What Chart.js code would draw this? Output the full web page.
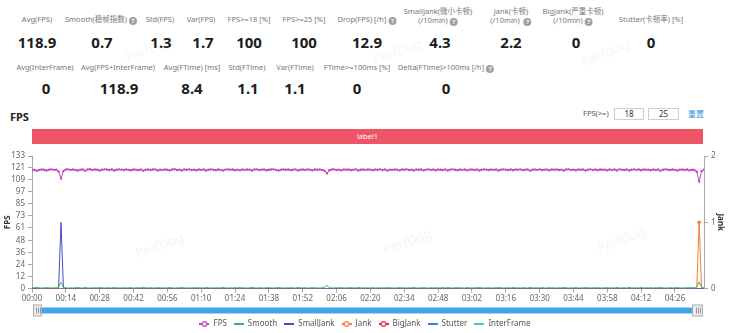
<!DOCTYPE html>
<html>
<head>
<meta charset="utf-8">
<script src="https://cdn.jsdelivr.net/npm/chart.js@4/dist/chart.umd.min.js"></script>
<style>
  html, body { margin: 0; padding: 0; background: #fff; }
  body { width: 730px; height: 333px; overflow: hidden; position: relative;
         font-family: "Noto Sans", "Noto Sans CJK SC", sans-serif; }
  .lab { position: absolute; font-size: 7.5px; line-height: 9px; color: #777;
         transform: translateX(-50%); white-space: nowrap; text-align: center; }
  .val { position: absolute; font-size: 15px; font-weight: bold; color: #1c1c1c;
         transform: translate(-50%, -50%); white-space: nowrap; }
  .q { display: inline-block; width: 8px; height: 8px; border-radius: 50%; background: #a0a0a0;
       color: #fff; font-size: 6px; line-height: 8px; text-align: center; vertical-align: -1px;
       margin-left: 2px; font-weight: bold; }
  #title { position: absolute; left: 10px; top: 109px; font-size: 11px; font-weight: bold; color: #222; }
  #band { position: absolute; left: 32px; top: 129px; width: 671px; height: 15px; background: #ee5466;
          color: #fff; font-size: 7.5px; line-height: 15px; text-align: center; }
  .ctl { position: absolute; top: 108px; font-size: 7.5px; color: #555; line-height: 11px; }
  .box { position: absolute; top: 108px; height: 10px; border: 1px solid #cfcfcf; font-size: 8px;
         line-height: 10px; text-align: center; color: #333; }
  .wm { position: absolute; font-size: 13px; color: rgba(160,160,160,0.12); transform: rotate(-20deg);
        pointer-events: none; white-space: nowrap; }
  #c { position: absolute; left: 0; top: 148px; }
</style>
</head>
<body>

<!-- summary metrics -->
<div class="lab" style="left:37px;top:15px">Avg(FPS)</div>
<div class="lab" style="left:101px;top:15px">Smooth(稳帧指数)<span class="q">?</span></div>
<div class="lab" style="left:160px;top:15px">Std(FPS)</div>
<div class="lab" style="left:201px;top:15px">Var(FPS)</div>
<div class="lab" style="left:249px;top:15px">FPS&gt;=18 [%]</div>
<div class="lab" style="left:304px;top:15px">FPS&gt;=25 [%]</div>
<div class="lab" style="left:367px;top:15px">Drop(FPS) [/h]<span class="q">?</span></div>
<div class="lab" style="left:438px;top:7px">SmallJank(微小卡顿)<br>(/10min)<span class="q">?</span></div>
<div class="lab" style="left:511px;top:7px">Jank(卡顿)<br>(/10min) <span class="q">?</span></div>
<div class="lab" style="left:573px;top:7px">BigJank(严重卡顿)<br>(/10min)<span class="q">?</span></div>
<div class="lab" style="left:651px;top:15px">Stutter(卡顿率) [%]</div>

<div class="val" style="left:37px;top:42px">118.9</div>
<div class="val" style="left:102px;top:42px">0.7</div>
<div class="val" style="left:161px;top:42px">1.3</div>
<div class="val" style="left:203px;top:42px">1.7</div>
<div class="val" style="left:249px;top:42px">100</div>
<div class="val" style="left:304px;top:42px">100</div>
<div class="val" style="left:367px;top:42px">12.9</div>
<div class="val" style="left:440px;top:42px">4.3</div>
<div class="val" style="left:511px;top:42px">2.2</div>
<div class="val" style="left:576px;top:42px">0</div>
<div class="val" style="left:651px;top:42px">0</div>

<div class="lab" style="left:45px;top:63px">Avg(InterFrame)</div>
<div class="lab" style="left:118px;top:63px">Avg(FPS+InterFrame)</div>
<div class="lab" style="left:192px;top:63px">Avg(FTime) [ms]</div>
<div class="lab" style="left:247px;top:63px">Std(FTime)</div>
<div class="lab" style="left:295px;top:63px">Var(FTime)</div>
<div class="lab" style="left:357px;top:63px">FTime&gt;=100ms [%]</div>
<div class="lab" style="left:446px;top:63px">Delta(FTime)&gt;100ms [/h]<span class="q">?</span></div>

<div class="val" style="left:46px;top:88px">0</div>
<div class="val" style="left:119px;top:88px">118.9</div>
<div class="val" style="left:192px;top:88px">8.4</div>
<div class="val" style="left:248px;top:88px">1.1</div>
<div class="val" style="left:295px;top:88px">1.1</div>
<div class="val" style="left:357px;top:88px">0</div>
<div class="val" style="left:446px;top:88px">0</div>

<div id="title">FPS</div>
<div class="ctl" style="left:583px">FPS(&gt;=)</div>
<div class="box" style="left:614px;width:28px">18</div>
<div class="box" style="left:648px;width:29px">25</div>
<div class="ctl" style="left:688px;color:#3a8ee6;font-size:8px">重置</div>
<div id="band">label1</div>

<canvas id="c" width="730" height="190"></canvas>

<div class="wm" style="left:124px;top:40px">PerfDog</div>
<div class="wm" style="left:372px;top:42px">PerfDog</div>
<div class="wm" style="left:580px;top:44px">PerfDog</div>
<div class="wm" style="left:134px;top:236px">PerfDog</div>
<div class="wm" style="left:382px;top:232px">PerfDog</div>
<div class="wm" style="left:596px;top:230px">PerfDog</div>

<script>
// Per-second FPS samples (0 .. 278 s)
const fpsVals = [
  119.3,119.0,118.2,119.1,119.5,119.2,118.4,119.2,119.6,119.1,119.3,117.4,110.3,117.9,119.4,119.6,119.1,119.5,119.0,118.5,
  119.3,119.5,118.3,119.4,119.7,119.0,119.5,119.2,118.5,119.3,119.6,119.4,119.0,119.5,118.4,119.2,119.6,119.3,119.0,119.4,
  119.1,118.7,119.5,119.3,118.8,119.4,118.3,119.2,119.5,119.0,119.4,119.6,118.5,119.3,119.1,119.5,119.2,118.6,119.4,119.7,
  119.0,119.3,118.4,119.5,119.2,119.6,118.9,119.3,118.7,119.4,119.1,119.5,118.5,119.2,119.6,119.3,118.8,119.4,119.1,118.4,
  119.3,119.6,119.2,119.5,118.8,119.3,118.6,119.4,119.1,119.5,119.3,118.5,119.4,119.6,119.0,119.3,119.5,118.7,119.2,119.4,
  119.6,119.1,118.4,119.3,119.5,119.2,119.4,118.8,119.3,119.6,118.5,119.2,119.4,119.1,119.5,119.3,118.6,119.4,119.2,119.5,
  119.1,118.2,115.6,118.7,119.4,119.6,119.0,119.3,118.6,119.5,119.2,119.4,118.8,119.3,119.6,118.4,119.2,119.5,119.1,119.4,
  119.3,118.7,119.5,119.2,119.6,118.9,119.4,118.5,119.3,119.1,119.5,119.3,118.6,119.4,119.2,119.6,119.0,119.3,118.4,119.5,
  119.2,119.4,118.6,119.3,119.6,119.1,119.4,118.7,119.5,119.2,119.0,119.5,118.4,119.3,119.6,119.2,118.8,119.4,119.1,119.5,
  118.6,119.3,119.5,119.0,119.4,118.5,119.2,119.6,119.3,118.9,119.5,119.1,119.4,118.4,119.3,119.6,119.2,119.0,119.5,118.7,
  119.4,119.2,119.6,118.8,119.3,119.5,118.3,119.2,119.4,119.1,119.6,118.9,119.3,119.5,118.6,119.4,119.2,119.5,119.0,119.3,
  118.5,119.4,119.6,119.1,119.3,118.7,119.5,119.2,119.4,118.4,119.3,119.6,119.0,119.4,118.8,119.5,119.2,119.3,118.6,119.5,
  119.1,119.4,118.5,119.6,119.3,119.0,119.5,118.4,119.2,119.6,119.1,119.4,118.7,119.5,119.2,119.3,118.8,119.5,119.0,119.4,
  118.3,119.2,119.6,119.3,118.9,119.4,119.1,118.5,119.3,119.5,119.0,119.4,118.6,119.2,118.9,117.2,107.4,118.0,119.3
];

// Per-second smoothness index
const smoothVals = [
  0.6,0.8,1.1,0.7,0.5,0.6,1.0,0.7,0.5,0.8,0.6,1.6,6.2,1.4,0.6,0.5,0.7,0.5,0.8,1.0,
  0.6,0.5,1.1,0.6,0.4,0.8,0.6,0.7,1.0,0.6,0.5,0.6,0.8,0.5,1.1,0.7,0.5,0.6,0.8,0.6,
  0.7,0.9,0.5,0.6,0.9,0.6,1.2,0.7,0.5,0.8,0.6,0.5,1.0,0.6,0.7,0.5,0.7,1.0,0.6,0.4,
  0.8,0.6,1.1,0.5,0.7,0.5,0.8,0.6,0.9,0.6,0.7,0.5,1.0,0.7,0.5,0.6,0.8,0.6,0.7,1.1,
  0.6,0.5,0.7,0.5,0.9,0.6,1.0,0.6,0.7,0.5,0.6,1.1,0.6,0.5,0.8,0.6,0.5,0.9,0.7,0.6,
  0.5,0.7,1.1,0.6,0.5,0.7,0.6,0.9,0.6,0.5,1.1,0.7,0.6,0.7,0.5,0.6,1.0,0.6,0.7,0.5,
  0.7,1.3,3.1,1.0,0.6,0.5,0.8,0.6,1.0,0.5,0.7,0.6,0.9,0.6,0.5,1.1,0.7,0.5,0.7,0.6,
  0.6,0.9,0.5,0.7,0.5,0.8,0.6,1.0,0.6,0.7,0.5,0.6,1.0,0.6,0.7,0.5,0.8,0.6,1.1,0.5,
  0.7,0.6,1.0,0.6,0.5,0.7,0.6,0.9,0.5,0.7,0.8,0.5,1.1,0.6,0.5,0.7,0.9,0.6,0.7,0.5,
  1.0,0.6,0.5,0.8,0.6,1.1,0.7,0.5,0.6,0.9,0.5,0.7,0.6,1.1,0.6,0.5,0.7,0.8,0.5,1.0,
  0.6,0.7,0.5,0.9,0.6,0.5,1.2,0.7,0.6,0.7,0.5,0.9,0.6,0.5,1.0,0.6,0.7,0.5,0.8,0.6,
  1.1,0.6,0.5,0.7,0.6,1.0,0.5,0.7,0.6,1.1,0.6,0.5,0.8,0.6,0.9,0.5,0.7,0.6,1.0,0.5,
  0.7,0.6,1.1,0.5,0.6,0.8,0.5,1.1,0.7,0.5,0.7,0.6,1.0,0.5,0.7,0.6,0.9,0.5,0.8,0.6,
  1.2,0.7,0.5,0.6,0.9,0.6,0.7,1.0,0.6,0.5,0.8,0.6,1.0,0.7,0.9,1.8,6.5,1.5,0.6
];

// Jank-type counts as [second, count] breakpoints (zero between them)
const smallJankPts = [[0,0],[11,0],[12,1],[13,0],[278,0]];
const jankPts      = [[0,0],[275,0],[276,1],[277,0],[278,0]];
const bigJankPts   = [[0,0],[278,0]];
const stutterPts   = [[0,0],[278,0]];
const interFramePts = [[0,0],[278,0]];

// Axis tick labels
const xTickLabels = ['00:00','00:14','00:28','00:42','00:56','01:10','01:24','01:38','01:52','02:06',
                     '02:20','02:34','02:48','03:02','03:16','03:30','03:44','03:58','04:12','04:26'];
const yTickLabels = ['0','12','24','36','48','61','73','85','97','109','121','133'];
const jankTickLabels = ['0','1','2'];

const toSeconds = s => { const [m, sec] = s.split(':').map(Number); return m * 60 + sec; };
const fmtTime = v => { const m = Math.floor(v / 60), s = Math.round(v % 60); return String(m).padStart(2,'0') + ':' + String(s).padStart(2,'0'); };

const seriesPts = vals => vals.map((v, i) => ({ x: i, y: v }));
const pairPts = pairs => pairs.map(([x, y]) => ({ x, y }));

const colors = {
  fps: '#bf45bf', smooth: '#4cae62', smallJank: '#4a4acc', jank: '#ef7f3a',
  bigJank: '#d8333d', stutter: '#3f80d6', interFrame: '#3ec7cf'
};

function legendIcon(color, dot) {
  const cv = document.createElement('canvas');
  cv.width = 10; cv.height = 8;
  const g = cv.getContext('2d');
  g.strokeStyle = color; g.lineWidth = 2;
  g.beginPath(); g.moveTo(0, 4); g.lineTo(10, 4); g.stroke();
  if (dot) {
    g.fillStyle = '#fff'; g.lineWidth = 1.3;
    g.beginPath(); g.arc(5, 4, 2.3, 0, Math.PI * 2); g.fill(); g.stroke();
  }
  return cv;
}

// Range slider strip drawn under the time axis
const sliderPlugin = {
  id: 'rangeSlider',
  afterDraw(chart) {
    const { ctx, chartArea: a } = chart;
    const y = a.bottom + 19, h = 6;
    const l = a.left + 1, r = a.right - 1;
    ctx.save();
    ctx.fillStyle = '#3fa7e6';
    ctx.fillRect(l + 9, y, (r - 11) - (l + 9), h);
    [[l, l + 9], [r - 11, r]].forEach(([x0, x1]) => {
      ctx.fillStyle = '#ececec';
      ctx.strokeStyle = '#b0b0b0';
      ctx.lineWidth = 1;
      ctx.fillRect(x0, y - 3, x1 - x0, h + 6);
      ctx.strokeRect(x0 + 0.5, y - 2.5, x1 - x0 - 1, h + 5);
      ctx.strokeStyle = '#999';
      const cx = (x0 + x1) / 2;
      [-2, 0, 2].forEach(dx => {
        ctx.beginPath(); ctx.moveTo(Math.round(cx + dx) + 0.5, y); ctx.lineTo(Math.round(cx + dx) + 0.5, y + h); ctx.stroke();
      });
    });
    ctx.restore();
  }
};

Chart.defaults.font.family = '"Noto Sans", "Open Sans", sans-serif';

const axisGray = '#a8a8a8';
const tickFont = { size: 8 };

new Chart(document.getElementById('c'), {
  type: 'line',
  data: {
    datasets: [
      { label: 'FPS', data: seriesPts(fpsVals), yAxisID: 'y', borderColor: colors.fps, backgroundColor: colors.fps,
        borderWidth: 1, pointRadius: 1.2, pointBorderWidth: 0, pointBackgroundColor: colors.fps, tension: 0 },
      { label: 'Smooth', data: seriesPts(smoothVals), yAxisID: 'y', borderColor: colors.smooth, backgroundColor: colors.smooth,
        borderWidth: 1, pointRadius: 0, tension: 0 },
      { label: 'SmallJank', data: pairPts(smallJankPts), yAxisID: 'y1', borderColor: colors.smallJank, backgroundColor: colors.smallJank,
        borderWidth: 1, pointRadius: 0, tension: 0 },
      { label: 'Jank', data: pairPts(jankPts), yAxisID: 'y1', borderColor: colors.jank, backgroundColor: colors.jank,
        borderWidth: 1, pointRadius: c => (c.raw && c.raw.y > 0 ? 1.8 : 0), pointBorderWidth: 0, tension: 0 },
      { label: 'BigJank', data: pairPts(bigJankPts), yAxisID: 'y1', borderColor: colors.bigJank, backgroundColor: colors.bigJank,
        borderWidth: 1, pointRadius: 0, tension: 0 },
      { label: 'Stutter', data: pairPts(stutterPts), yAxisID: 'y', borderColor: colors.stutter, backgroundColor: colors.stutter,
        borderWidth: 1, pointRadius: 0, tension: 0 },
      { label: 'InterFrame', data: pairPts(interFramePts), yAxisID: 'y', borderColor: colors.interFrame, backgroundColor: colors.interFrame,
        borderWidth: 1, pointRadius: 0, tension: 0 }
    ]
  },
  options: {
    responsive: false,
    animation: false,
    layout: { padding: { top: 8, left: 0, right: 0, bottom: 0 } },
    plugins: {
      tooltip: { enabled: false },
      legend: {
        position: 'bottom',
        labels: {
          usePointStyle: true, pointStyleWidth: 10, boxHeight: 8, padding: 7,
          color: '#555', font: { size: 8 },
          generateLabels(chart) {
            const items = Chart.defaults.plugins.legend.labels.generateLabels(chart);
            const dotted = ['FPS', 'Jank', 'BigJank'];
            items.forEach((it, i) => {
              const ds = chart.data.datasets[i];
              it.pointStyle = legendIcon(ds.borderColor, dotted.includes(ds.label));
            });
            return items;
          }
        }
      }
    },
    scales: {
      x: {
        type: 'linear', min: 0, max: fpsVals.length - 1, z: 1,
        border: { color: axisGray },
        grid: { drawOnChartArea: false, tickLength: 4, color: axisGray },
        afterBuildTicks: s => { s.ticks = xTickLabels.map(t => ({ value: toSeconds(t) })); },
        ticks: { color: '#666', font: tickFont, padding: 1, maxRotation: 0, autoSkip: false,
                 callback: v => fmtTime(v) },
        afterFit: s => { s.height = 24.5; }
      },
      y: {
        position: 'left', min: 0, max: 133,
        border: { color: axisGray },
        grid: { drawOnChartArea: false, tickLength: 4, color: axisGray },
        afterBuildTicks: s => { s.ticks = yTickLabels.map(t => ({ value: Number(t) })); },
        ticks: { color: '#666', font: tickFont, padding: 3, autoSkip: false, callback: v => String(v) },
        title: { display: true, text: 'FPS', color: '#333', font: { size: 8, weight: 'bold' }, padding: { top: 3, bottom: 0 } },
        afterFit: s => { s.width = 32; }
      },
      y1: {
        position: 'right', min: 0, max: 2,
        border: { color: axisGray },
        grid: { drawOnChartArea: false, tickLength: 4, color: axisGray },
        afterBuildTicks: s => { s.ticks = jankTickLabels.map(t => ({ value: Number(t) })); },
        ticks: { color: '#666', font: tickFont, padding: 3, autoSkip: false, callback: v => String(v) },
        title: { display: true, text: 'Jank', color: '#333', font: { size: 8, weight: 'bold' }, padding: { top: 5, bottom: 0 } },
        afterFit: s => { s.width = 26; }
      }
    }
  },
  plugins: [sliderPlugin]
});
</script>
</body>
</html>
